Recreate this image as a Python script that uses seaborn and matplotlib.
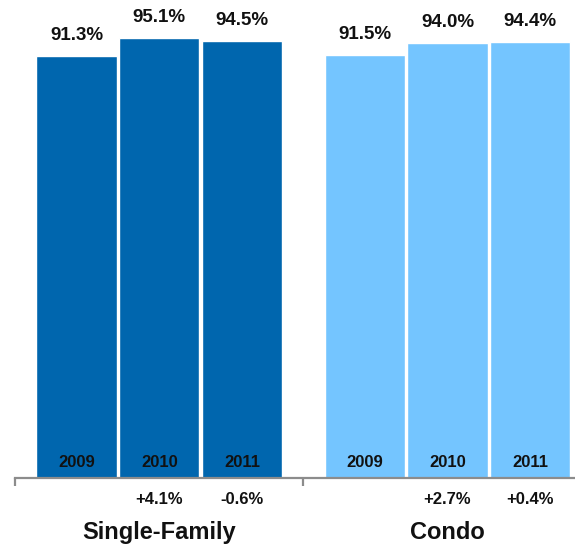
import matplotlib
matplotlib.use("Agg")
import matplotlib.pyplot as plt
import seaborn as sns
import pandas as pd

# data
groups = ["Single-Family", "Condo"]
years = ["2009", "2010", "2011"]
single_family = [91.3, 95.1, 94.5]
condo = [91.5, 94.0, 94.4]
sf_change = ["", "+4.1%", "-0.6%"]
condo_change = ["", "+2.7%", "+0.4%"]

colors = {"Single-Family": "#0066AE", "Condo": "#74C5FF"}
group_step = 3.48  # distance between first bars of each group

rows = []
for g, (name, vals, chg) in enumerate([("Single-Family", single_family, sf_change),
                                        ("Condo", condo, condo_change)]):
    for i, (yr, v, c) in enumerate(zip(years, vals, chg)):
        rows.append({"group": name, "year": yr, "value": v, "change": c,
                     "pos": g * group_step + i})
df = pd.DataFrame(rows)

sns.set_theme(style="white")
plt.rcParams["font.family"] = ["Liberation Sans", "DejaVu Sans"]
plt.rcParams["font.weight"] = "bold"

fig = plt.figure(figsize=(5.75, 5.49), dpi=100)
ax = fig.add_axes([15 / 575, 71 / 549, 560 / 575, 478 / 549])

sns.barplot(data=df, x="pos", y="value", hue="group", palette=colors,
            native_scale=True, dodge=False, width=0.97, legend=False,
            saturation=1, ax=ax)

ax.set_xlim(-0.743, 6.02)
ax.set_ylim(0, 103.4)

for _, r in df.iterrows():
    ax.annotate(f"{r['value']:.1f}%", (r["pos"], r["value"]), xytext=(0, 11.5),
                textcoords="offset points", ha="center", va="baseline",
                fontsize=13.5, fontweight="bold", color="#111111")
    ax.annotate(r["year"], (r["pos"], 0), xytext=(0, 8),
                textcoords="offset points", ha="center", va="baseline",
                fontsize=12, fontweight="bold", color="#111111",
                annotation_clip=False)
    if r["change"]:
        ax.annotate(r["change"], (r["pos"], 0), xytext=(0, -19),
                    textcoords="offset points", ha="center", va="baseline",
                    fontsize=12, fontweight="bold", color="#111111",
                    annotation_clip=False)

for g, name in enumerate(groups):
    ax.annotate(name, (g * group_step + 1, 0), xytext=(0, -44),
                textcoords="offset points", ha="center", va="baseline",
                fontsize=17, fontweight="bold", color="#111111",
                annotation_clip=False)

sns.despine(ax=ax, left=True, top=True, right=True)
ax.spines["bottom"].set_color("#8c8c8c")
ax.spines["bottom"].set_linewidth(1.6)
ax.set_xticks([-0.743, 2.737])
ax.set_xticklabels([])
ax.tick_params(axis="x", bottom=True, direction="out", length=6, width=1.6,
               color="#8c8c8c")
ax.set_yticks([])
ax.set_xlabel("")
ax.set_ylabel("")

fig.savefig("out.png", dpi=100)
